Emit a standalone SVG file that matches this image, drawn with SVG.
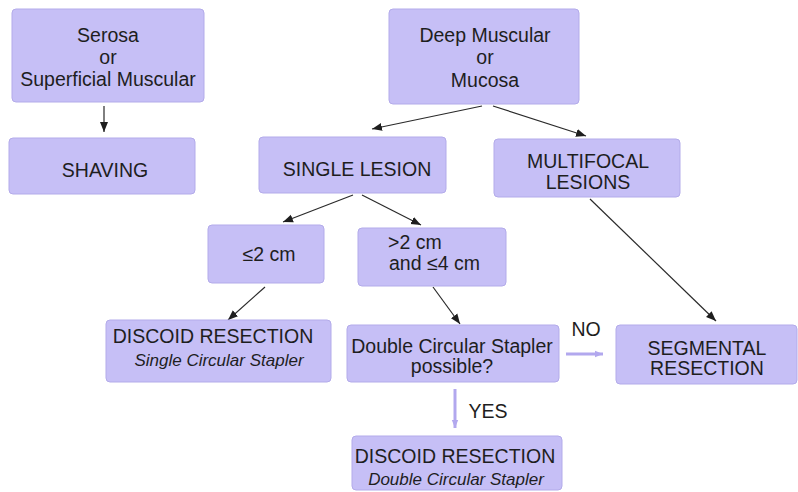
<svg xmlns="http://www.w3.org/2000/svg" width="798" height="492" viewBox="0 0 798 492">
<style>
.box{fill:#c6bff6;stroke:#b3abea;stroke-width:1}
.t{font-family:"Liberation Sans",Arial,sans-serif;font-size:19.5px;fill:#1e1e1e;text-anchor:middle}
.i{font-family:"Liberation Sans",Arial,sans-serif;font-size:17px;font-style:italic;fill:#1e1e1e;text-anchor:middle}
.c{stroke:#2a2a2a;stroke-width:1.2;fill:none;marker-end:url(#ah)}
.p{stroke:#b2a8ee;stroke-width:3;fill:none;marker-end:url(#ph)}
</style>
<defs>
<marker id="ah" viewBox="0 0 10 10" refX="10" refY="5" markerWidth="10" markerHeight="10" markerUnits="userSpaceOnUse" orient="auto"><path d="M0,1 L10,5 L0,9 z" fill="#1e1e1e"/></marker>
<marker id="ph" viewBox="0 0 10 10" refX="10" refY="5" markerWidth="12" markerHeight="8" markerUnits="userSpaceOnUse" orient="auto"><path d="M0,1 L10,5 L0,9 z" fill="#b2a8ee"/></marker>
</defs>
<rect width="798" height="492" fill="#ffffff"/>
<g id="connectors">
<line class="c" x1="104" y1="106" x2="104" y2="132"/>
<line class="c" x1="482" y1="106" x2="372" y2="129"/>
<line class="c" x1="493" y1="106" x2="586" y2="136"/>
<line class="c" x1="353" y1="195" x2="283" y2="222"/>
<line class="c" x1="362" y1="195" x2="421" y2="225"/>
<line class="c" x1="265" y1="287" x2="228" y2="320"/>
<line class="c" x1="433" y1="287" x2="460" y2="324"/>
<line class="c" x1="590" y1="199" x2="716" y2="321"/>
<line class="p" x1="566" y1="354" x2="603" y2="354"/>
<line class="p" x1="455" y1="389" x2="455" y2="428"/>
<text class="t" x="586" y="336">NO</text>
<text class="t" x="488" y="418">YES</text>
</g>
<g id="serosa">
<rect class="box" x="12" y="9" width="192" height="93" rx="4"/>
<text class="t" x="108" y="42">Serosa</text>
<text class="t" x="108" y="64">or</text>
<text class="t" x="108" y="86">Superficial Muscular</text>
</g>
<g id="shaving">
<rect class="box" x="9" y="138" width="186" height="56" rx="4"/>
<text class="t" x="105" y="177">SHAVING</text>
</g>
<g id="deep">
<rect class="box" x="389" y="9" width="190" height="95" rx="4"/>
<text class="t" x="485" y="42">Deep Muscular</text>
<text class="t" x="485" y="64">or</text>
<text class="t" x="485" y="87">Mucosa</text>
</g>
<g id="single">
<rect class="box" x="259" y="137" width="187" height="56" rx="4"/>
<text class="t" x="357" y="176">SINGLE LESION</text>
</g>
<g id="multifocal">
<rect class="box" x="494" y="139" width="186" height="58" rx="4"/>
<text class="t" x="588" y="168">MULTIFOCAL</text>
<text class="t" x="588" y="189">LESIONS</text>
</g>
<g id="le2">
<rect class="box" x="208" y="225" width="116" height="58" rx="4"/>
<text class="t" x="269" y="261">≤2 cm</text>
</g>
<g id="gt2">
<rect class="box" x="358" y="228" width="148" height="58" rx="4"/>
<text class="t" x="388" y="249" style="text-anchor:start">&gt;2 cm</text>
<text class="t" x="389" y="270" style="text-anchor:start">and ≤4 cm</text>
</g>
<g id="discoid-single">
<rect class="box" x="106" y="320" width="225" height="62" rx="4"/>
<text class="t" x="213" y="343">DISCOID RESECTION</text>
<text class="i" x="219" y="366">Single Circular Stapler</text>
</g>
<g id="double-possible">
<rect class="box" x="347" y="325" width="212" height="57" rx="4"/>
<text class="t" x="452" y="353">Double Circular Stapler</text>
<text class="t" x="452" y="373">possible?</text>
</g>
<g id="segmental">
<rect class="box" x="616" y="325" width="181" height="59" rx="4"/>
<text class="t" x="707" y="355">SEGMENTAL</text>
<text class="t" x="707" y="375">RESECTION</text>
</g>
<g id="discoid-double">
<rect class="box" x="352" y="436" width="210" height="54" rx="4"/>
<text class="t" x="455" y="463">DISCOID RESECTION</text>
<text class="i" x="456" y="485">Double Circular Stapler</text>
</g>
</svg>
